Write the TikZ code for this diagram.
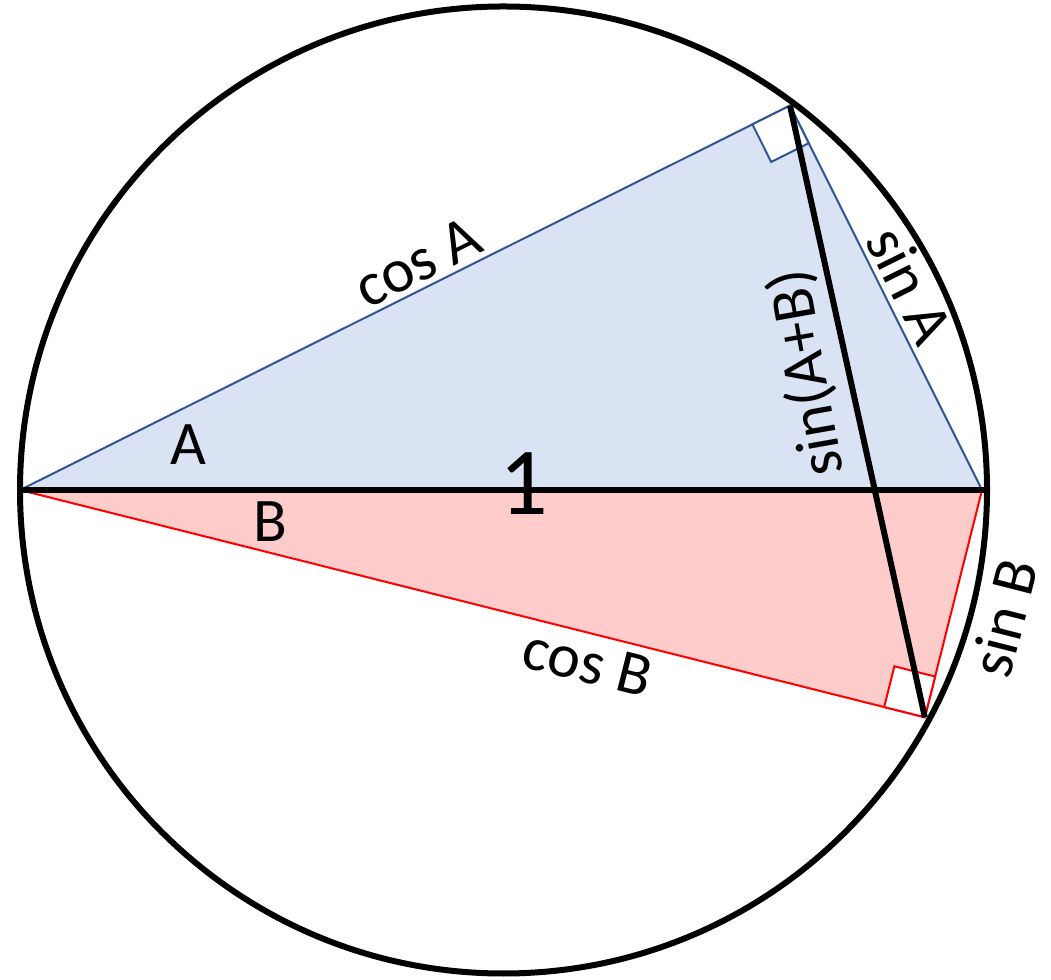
\documentclass[tikz,border=0pt]{standalone}
\usepackage{fontspec}
\setmainfont{Carlito}
\usetikzlibrary{calc}
\definecolor{bluefill}{RGB}{218,227,243}
\definecolor{lineblue}{RGB}{47,85,151}
\definecolor{redfill}{RGB}{255,204,204}
\definecolor{linered}{RGB}{255,0,0}
\begin{document}
\begin{tikzpicture}[x=1pt,y=1pt,
  lbl/.style={font=\fontsize{62}{64}\selectfont, inner sep=0pt},
  biglbl/.style={font=\fontsize{96}{100}\selectfont, inner sep=0pt},
  heavy/.style={line width=6pt},
  blueline/.style={draw=lineblue, line width=2pt},
  redline/.style={draw=linered, line width=2pt}]
\useasboundingbox (0,0) rectangle (1051,979);
\coordinate (C) at (503.5,489);
\coordinate (L) at (20,489);
\coordinate (R) at (982,489);
\coordinate (E) at (987,489);
\coordinate (P) at ($(L)+(26.53:{962*cos(26.53)})$);
\coordinate (Q) at ($(L)+(-14.1:{962*cos(14.1)})$);
% right-angle marks
\coordinate (P1) at ($(P)!42pt!(L)$);
\coordinate (P2) at ($(P)!42pt!(R)$);
\coordinate (P3) at ($(P1)+(P2)-(P)$);
\coordinate (Q1) at ($(Q)!42pt!(L)$);
\coordinate (Q2) at ($(Q)!42pt!(R)$);
\coordinate (Q3) at ($(Q1)+(Q2)-(Q)$);
% fills
\fill[bluefill] (L) -- (P) -- (R) -- cycle;
\fill[redfill] (L) -- (Q) -- (R) -- cycle;
\draw[blueline] (L) -- (P) -- (R);
\draw[redline] (L) -- (Q) -- (R);
\filldraw[fill=white, blueline] (P) -- (P1) -- (P3) -- (P2) -- cycle;
\filldraw[fill=white, redline] (Q) -- (Q1) -- (Q3) -- (Q2) -- cycle;
% black lines
\draw[heavy] (L) -- (E);
\draw[heavy] (P) -- (Q);
\draw[heavy] (C) circle (483.5);
% labels
\node[lbl, rotate=26.5] (cosA) at (418,717) {cos A};
\node[lbl, rotate=-63.6] (sinA) at (910,694) {sin A};
\node[lbl, rotate=100] (sinAB) at (807,606) {sin(A+B)};
\node[lbl, rotate=75.7] (sinB) at (1004,361) {sin B};
\node[lbl, rotate=-14.1] (cosB) at (588,316) {cos B};
\node[lbl] (angA) at (188,534) {A};
\node[lbl] (angB) at (270,457) {B};
\node[biglbl] (one) at (524,495) {1};
\end{tikzpicture}
\end{document}
